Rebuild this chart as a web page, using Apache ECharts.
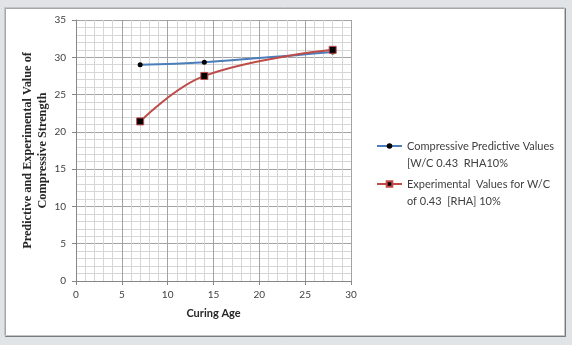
<!DOCTYPE html>
<html><head><meta charset="utf-8">
<script src="https://cdn.jsdelivr.net/npm/echarts@6/dist/echarts.min.js"></script>
<style>html,body{margin:0;padding:0;background:#e1e4e6;}#c{width:572px;height:345px;}</style>
</head><body><div id="c"></div>
<script>
const curingAge = [7, 14, 28];
const predictive = [29.0, 29.35, 30.7];
const experimental = [21.4, 27.5, 31.0];
const seriesNames = ['Compressive Predictive Values\n[W/C 0.43  RHA10%', 'Experimental  Values for W/C\nof 0.43  [RHA] 10%'];
const xTitle = 'Curing Age';
const yTitle = 'Predictive and Experimental Value of\nCompressive Strength';

const chart = echarts.init(document.getElementById('c'), null, {renderer: 'canvas'});
const LH = 17;
const legendText = {color: '#404040', fontSize: 11, fontFamily: 'Lato', lineHeight: LH};
const legendBase = {
  orient: 'vertical', padding: 0, itemWidth: 25, itemHeight: 7, itemGap: 0,
  textStyle: legendText, formatter: n => '\n' + n
};
chart.setOption({
  animation: false,
  backgroundColor: '#e1e4e6',
  graphic: [{
    type: 'rect', z: -10, silent: true,
    shape: {x: 4.5, y: 7.5, width: 560, height: 328},
    style: {fill: '#fff', stroke: '#c4c4c4', lineWidth: 1, shadowColor: 'rgba(0,0,0,0.35)', shadowOffsetX: 1, shadowOffsetY: 1, shadowBlur: 0}
  }],
  grid: {left: 76, right: 221, top: 20, bottom: 64},
  legend: [
    Object.assign({left: 376, top: 146 - 1.5 * LH, data: [seriesNames[0]]}, legendBase),
    Object.assign({left: 376, top: 184 - 1.5 * LH, data: [seriesNames[1]]}, legendBase)
  ],
  xAxis: {
    type: 'value', min: 0, max: 30, interval: 5,
    name: xTitle, nameLocation: 'middle', nameGap: 27,
    nameTextStyle: {fontFamily: 'Lato', fontWeight: 'bold', fontSize: 11, color: '#262626'},
    axisLine: {show: true, lineStyle: {color: '#868686'}},
    axisTick: {show: true, length: 4, lineStyle: {color: '#868686'}},
    axisLabel: {color: '#404040', fontSize: 10, fontFamily: 'Lato', margin: 9},
    splitLine: {show: true, lineStyle: {color: '#a3a3a3'}},
    minorTick: {show: false, splitNumber: 5},
    minorSplitLine: {show: true, lineStyle: {color: '#d6d6d6'}}
  },
  yAxis: {
    type: 'value', min: 0, max: 35, interval: 5,
    name: yTitle, nameLocation: 'middle', nameGap: 24, nameRotate: 90,
    nameTextStyle: {fontFamily: 'Liberation Serif', fontWeight: 'bold', fontSize: 12.3, color: '#262626', lineHeight: 15, align: 'center'},
    axisLine: {show: true, lineStyle: {color: '#868686'}},
    axisTick: {show: true, length: 4, lineStyle: {color: '#868686'}},
    axisLabel: {color: '#404040', fontSize: 10, fontFamily: 'Lato', margin: 10},
    splitLine: {show: true, lineStyle: {color: '#a3a3a3'}},
    minorTick: {show: false, splitNumber: 5},
    minorSplitLine: {show: true, lineStyle: {color: '#d6d6d6'}}
  },
  series: [{
    name: seriesNames[0], type: 'line', smooth: 0.4,
    data: curingAge.map((x, i) => [x, predictive[i]]),
    symbol: 'circle', symbolSize: 5,
    lineStyle: {color: '#4a7ebb', width: 2},
    itemStyle: {color: '#000', borderColor: '#000', borderWidth: 0},
    z: 2
  }, {
    name: seriesNames[1], type: 'line', smooth: 0.4,
    data: curingAge.map((x, i) => [x, experimental[i]]),
    symbol: 'rect', symbolSize: 7,
    lineStyle: {color: '#be4b48', width: 2},
    itemStyle: {color: '#000', borderColor: '#be4b48', borderWidth: 1},
    z: 3
  }]
});
</script></body></html>
